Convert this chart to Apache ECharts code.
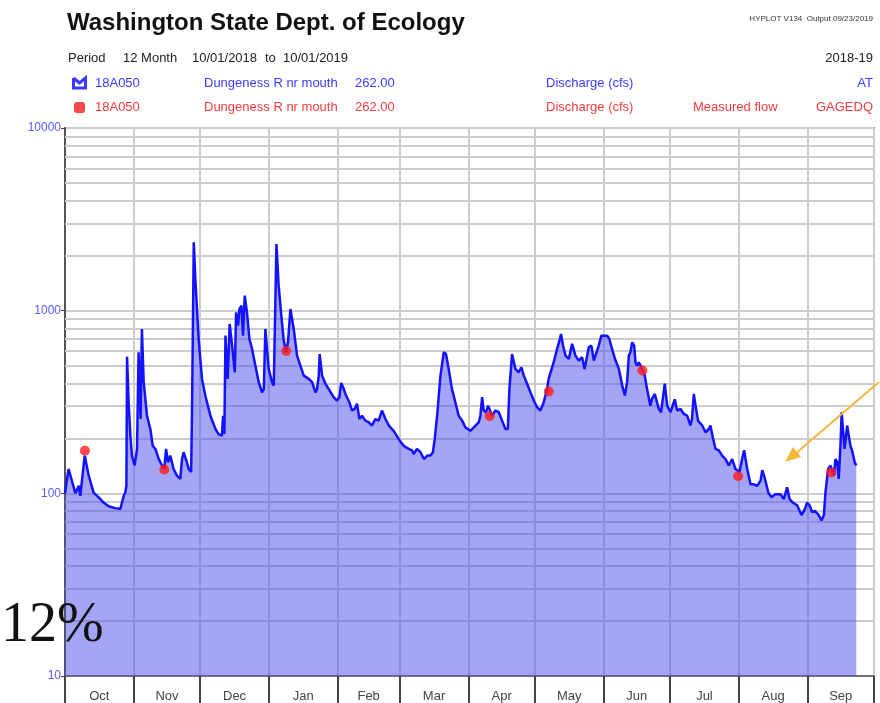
<!DOCTYPE html>
<html>
<head>
<meta charset="utf-8">
<title>Dungeness R nr mouth 2018-19</title>
<script src="https://cdn.jsdelivr.net/npm/echarts@6.0.0/dist/echarts.min.js"></script>
<style>
  html, body { margin: 0; padding: 0; background: #fff; }
  #main { width: 880px; height: 703px; }
</style>
</head>
<body>
<div id="main"></div>
<script>
// day index counted from 10/01/2018, discharge in cfs
var flowDays = [0, 1.6, 4.7, 6.2, 6.9, 8.9, 10.7, 12.9, 15.2, 17.4, 19.7, 22.7, 25.0, 25.7, 26.5, 27.2, 27.7, 28.0, 28.7, 29.5,
  30.2, 31.4, 32.5, 33.2, 34.1, 34.7, 35.5, 37.0, 38.5, 39.6, 40.8, 42.3, 43.8, 44.8, 45.6, 46.5, 47.5, 49.0, 50.5, 52.0,
  52.8, 53.5, 55.0, 55.8, 56.9, 57.3, 58.1, 58.8, 60.3, 61.8, 63.3, 65.6, 67.9, 69.3, 70.8, 71.3, 71.9, 72.4, 73.4, 74.3,
  75.4, 76.6, 77.2, 78.1, 78.7, 79.6, 80.3, 81.1, 82.1, 83.2, 84.4, 85.9, 87.4, 88.9, 89.7, 90.4, 91.9, 93.4, 94.2, 95.4,
  96.4, 97.6, 98.6, 99.7, 100.6, 101.7, 102.4, 103.2, 104.7, 106.2, 107.7, 110.0, 111.5, 113.0, 113.7, 114.5, 114.9, 116.0, 117.5, 119.0,
  121.2, 122.7, 123.8, 124.6, 125.8, 126.8, 128.3, 129.5, 130.7, 131.8, 132.8, 134.0, 135.5, 137.0, 138.5, 140.0, 141.5, 143.0, 144.6, 146.1,
  148.3, 150.6, 152.8, 155.1, 156.6, 157.3, 158.8, 160.4, 161.9, 163.4, 164.9, 166.0, 166.8, 167.9, 169.4, 170.9, 171.9, 173.1, 174.6, 176.1,
  177.6, 179.2, 180.6, 182.9, 185.2, 186.7, 187.4, 188.2, 188.9, 190.0, 190.9, 192.7, 194.2, 195.7, 197.2, 198.7, 199.8, 200.5, 201.7, 203.2,
  204.7, 205.9, 207.0, 208.5, 210.0, 211.5, 213.0, 214.5, 216.0, 217.5, 218.2, 220.5, 222.0, 223.1, 223.8, 224.7, 225.8, 227.3, 228.8, 230.3,
  231.8, 233.3, 234.4, 235.6, 236.3, 237.5, 238.6, 239.3, 240.8, 242.0, 243.1, 244.6, 245.6, 246.8, 248.4, 249.9, 251.4, 252.6, 253.6, 254.4,
  255.1, 255.9, 256.8, 257.4, 258.1, 258.9, 260.4, 261.6, 262.6, 264.1, 264.9, 266.1, 267.1, 267.9, 268.9, 269.9, 270.6, 271.7, 273.2, 275.1,
  276.2, 277.7, 279.2, 280.7, 282.2, 282.9, 283.7, 284.5, 285.6, 287.5, 289.0, 290.5, 291.2, 292.3, 293.5, 295.0, 296.5, 298.0, 299.5, 301.0,
  302.5, 304.3, 305.5, 306.4, 307.8, 309.3, 310.8, 312.3, 313.8, 314.6, 315.8, 317.3, 318.8, 320.5, 322.8, 324.3, 325.8, 326.9, 328.4, 330.3,
  332.3, 333.8, 334.8, 335.9, 337.1, 338.3, 339.8, 341.3, 342.4, 343.1, 344.3, 345.4, 346.9, 347.6, 348.4, 349.1, 349.9, 350.4, 351.0, 351.7,
  352.9, 353.6, 354.4, 355.1, 356.3, 357.0];
var flowCfs = [100, 136, 100, 110, 97, 161, 125, 101, 95, 89, 85, 83, 82, 89, 97, 101, 110, 560, 315, 207,
  161, 142, 175, 592, 255, 794, 406, 266, 225, 182, 175, 154, 142, 136, 175, 148, 161, 136, 125, 120,
  154, 168, 148, 136, 131, 278, 2366, 1491, 700, 423, 343, 266, 225, 211, 207, 266, 211, 730, 423, 846,
  644, 460, 979, 828, 1021, 1066, 730, 1209, 979, 700, 617, 500, 406, 357, 372, 794, 480, 406, 389, 2317,
  1371, 940, 700, 592, 671, 1021, 1000, 794, 568, 500, 441, 423, 406, 357, 372, 441, 579, 441, 398, 372,
  336, 322, 336, 402, 372, 343, 315, 284, 290, 309, 255, 266, 250, 245, 235, 255, 250, 284, 255, 235,
  220, 198, 182, 175, 172, 164, 175, 168, 154, 161, 161, 168, 198, 266, 441, 592, 579, 480, 372, 315,
  266, 250, 230, 220, 235, 245, 266, 336, 284, 278, 302, 266, 284, 278, 250, 225, 225, 372, 579, 480,
  460, 490, 441, 398, 357, 322, 296, 284, 315, 372, 423, 522, 617, 685, 746, 644, 568, 544, 658, 568,
  533, 556, 480, 568, 630, 644, 533, 522, 644, 730, 730, 730, 700, 617, 533, 480, 389, 343, 406, 568,
  592, 671, 644, 522, 500, 522, 480, 441, 372, 302, 330, 350, 315, 290, 278, 343, 398, 302, 278, 327,
  284, 290, 272, 266, 235, 255, 350, 302, 250, 235, 216, 225, 235, 202, 175, 172, 161, 154, 142, 154,
  136, 131, 154, 172, 136, 112, 112, 110, 117, 134, 120, 101, 95, 99, 99, 93, 108, 93, 89, 86,
  76, 82, 89, 86, 79, 80, 77, 71, 76, 101, 136, 142, 125, 154, 148, 120, 186, 278, 225, 175,
  235, 207, 182, 172, 148, 142];

// measured flow (GAGEDQ)
var measDays = [9.0, 44.8, 99.8, 191.6, 218.3, 260.5, 303.7, 345.7];
var measCfs = [171, 135, 602, 264, 361, 470, 124, 130];

var monthNames = ['Oct', 'Nov', 'Dec', 'Jan', 'Feb', 'Mar', 'Apr', 'May', 'Jun', 'Jul', 'Aug', 'Sep'];
var monthStarts = [0, 31, 61, 92, 123, 151, 182, 212, 243, 273, 304, 335, 365];
var minorGrid = [20, 30, 40, 50, 60, 70, 80, 90, 200, 300, 400, 500, 600, 700, 800, 900,
  2000, 3000, 4000, 5000, 6000, 7000, 8000, 9000];

var BLUE = '#3b3bff', RED = '#f23c3c', FONT = '"Liberation Sans", Arial, sans-serif';

var monthMids = monthNames.map(function (m, i) { return (monthStarts[i] + monthStarts[i + 1]) / 2; });
var flowData = flowDays.map(function (d, i) { return [d, flowCfs[i]]; });
var measData = measDays.map(function (d, i) { return [d, measCfs[i]]; });

function txt(x, y, s, size, color, align, weight) {
  return {
    type: 'text', x: x, y: y, silent: true,
    style: {
      text: s, fill: color, textAlign: align || 'left', textVerticalAlign: 'middle',
      font: (weight || 'normal') + ' ' + size + 'px ' + FONT
    }
  };
}

var myChart = echarts.init(document.getElementById('main'), null, { renderer: 'canvas' });

var option = {
  animation: false,
  backgroundColor: '#fff',
  grid: { left: 65, right: 6, top: 128, bottom: 27, show: true, borderColor: '#555', borderWidth: 1.5 },
  xAxis: {
    type: 'value', min: 0, max: 365,
    axisLine: { show: true, lineStyle: { color: '#555', width: 1.5 } },
    axisTick: { show: true, customValues: monthStarts, length: 27, lineStyle: { color: '#444', width: 2 } },
    axisLabel: {
      customValues: monthMids, color: '#444', fontSize: 13, fontFamily: FONT, margin: 14,
      formatter: function (v) { return monthNames[monthMids.indexOf(v)] || ''; }
    },
    splitLine: { show: true, lineStyle: { color: '#cccccc', width: 2 } }
  },
  yAxis: {
    type: 'log', logBase: 10, min: 10, max: 10000,
    axisLine: { show: true, lineStyle: { color: '#555', width: 2 } },
    axisTick: { show: true, length: 4, lineStyle: { color: '#444' } },
    axisLabel: {
      color: '#5a5aff', fontSize: 12, fontFamily: FONT, margin: 4,
      formatter: function (v) { return String(Math.round(v)); }
    },
    splitLine: { show: true, lineStyle: { color: '#cccccc', width: 2 } }
  },
  series: [
    {
      name: 'Discharge', type: 'line', data: flowData, symbol: 'none', z: 2,
      lineStyle: { color: '#1212ff', width: 2.5 },
      areaStyle: { color: '#4b4bef', opacity: 0.5, origin: 'start' },
      markLine: {
        silent: true, symbol: 'none', z: 1, animation: false,
        label: { show: false },
        lineStyle: { color: '#cccccc', width: 2, type: 'solid' },
        data: minorGrid.map(function (v) { return { yAxis: v }; })
      }
    },
    {
      name: 'Measured flow', type: 'scatter', data: measData, z: 4,
      symbol: 'circle', symbolSize: 10,
      itemStyle: { color: '#ff1c1c' }
    }
  ],
  graphic: [
    txt(67, 23, 'Washington State Dept. of Ecology', 24, '#111', 'left', 'bold'),
    txt(873, 19, 'HYPLOT V134  Output 09/23/2019', 8, '#333', 'right'),
    txt(68, 58, 'Period', 13, '#222'),
    txt(123, 58, '12 Month', 13, '#222'),
    txt(192, 58, '10/01/2018', 13, '#222'),
    txt(265, 58, 'to', 13, '#222'),
    txt(283, 58, '10/01/2019', 13, '#222'),
    txt(873, 58, '2018-19', 13, '#222', 'right'),
    {
      type: 'polyline', silent: true,
      shape: { points: [[73.5, 78], [73.5, 88], [85.5, 88], [85.5, 78], [79.5, 83], [73.5, 78]] },
      style: { stroke: BLUE, lineWidth: 3, fill: null }
    },
    txt(95, 83, '18A050', 13, BLUE),
    txt(204, 83, 'Dungeness R nr mouth', 13, BLUE),
    txt(355, 83, '262.00', 13, BLUE),
    txt(546, 83, 'Discharge (cfs)', 13, BLUE),
    txt(873, 83, 'AT', 13, BLUE, 'right'),
    {
      type: 'rect', silent: true,
      shape: { x: 74, y: 102, width: 11, height: 11, r: 3 },
      style: { fill: '#f24a4a' }
    },
    txt(95, 107, '18A050', 13, RED),
    txt(204, 107, 'Dungeness R nr mouth', 13, RED),
    txt(355, 107, '262.00', 13, RED),
    txt(546, 107, 'Discharge (cfs)', 13, RED),
    txt(693, 107, 'Measured flow', 13, RED),
    txt(873, 107, 'GAGEDQ', 13, RED, 'right'),
    // annotation arrow
    {
      type: 'line', silent: true, z: 10,
      shape: { x1: 879, y1: 382, x2: 795, y2: 454 },
      style: { stroke: '#f5b53a', lineWidth: 2 }
    },
    {
      type: 'polygon', silent: true, z: 10,
      shape: { points: [[785, 462], [801, 457], [793, 447]] },
      style: { fill: '#f5b53a' }
    },
    {
      type: 'text', x: 1, y: 626, silent: true, z: 10,
      style: { text: '12%', fill: '#111', textVerticalAlign: 'middle', font: '56px "Liberation Serif", "Times New Roman", serif' }
    }
  ]
};

myChart.setOption(option);
</script>
</body>
</html>
